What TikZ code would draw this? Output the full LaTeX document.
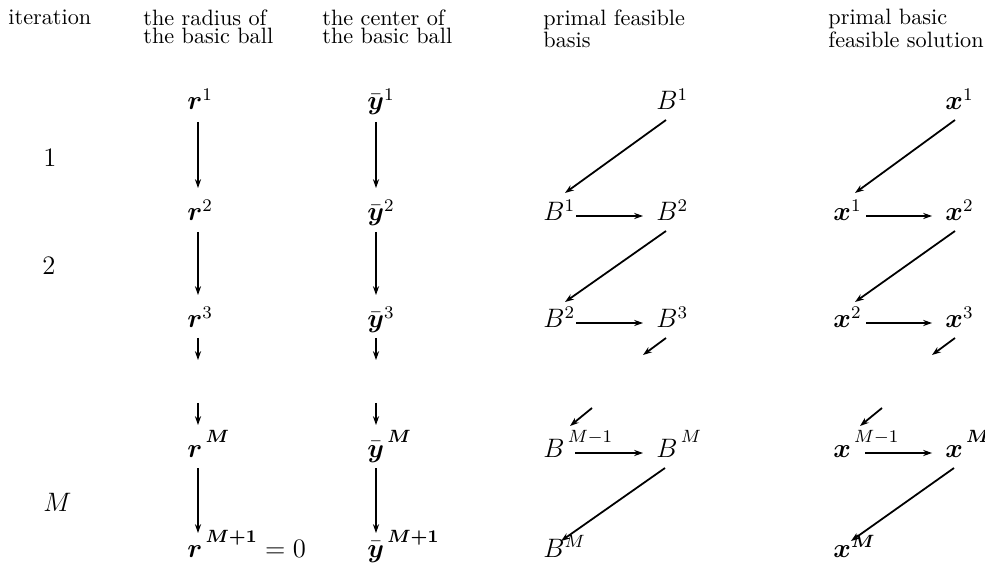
\documentclass[tikz,border=0pt]{standalone}
\usepackage{amsmath, amssymb}
\usepackage{tikz}
\usetikzlibrary{calc, arrows.meta}
\newcommand{\raisedsup}[1]{\,\raisebox{2.2pt}{$\scriptstyle #1$}}

\begin{document}
\begin{tikzpicture}[x=0.45pt, y=-0.45pt, >={Stealth[length=4pt, width=2.8pt]},
        every node/.style={inner sep=0pt, anchor=base west},
        head/.style={align=left, anchor=north west, font=\fontsize{10}{8.2}\selectfont},
        entry/.style={font=\large},
        vline/.style={->, line width=0.5pt},
        dline/.style={->, line width=0.8pt}]
                \useasboundingbox (0,0) rectangle (985,574);
                % headings
                \node[head] (hIt) at (8,9) {iteration};
                \node[head] (hRad) at (143,9) {the radius of\\the basic ball};
                \node[head] (hCen) at (322,9) {the center of\\the basic ball};
                \node[head] (hBas) at (543,9) {primal feasible\\basis};
                \node[head] (hSol) at (828,9) {primal basic\\feasible solution};
                % iterations
                \node[entry] (it1) at (43,167) {1};
                \node[entry] (it2) at (42,275) {2};
                \node[entry] (itM) at (43,511) {$M$};
                % radius
                \node[entry] (r1) at (187,110) {$\boldsymbol{r}^1$};
                \node[entry] (r2) at (187,221) {$\boldsymbol{r}^2$};
                \node[entry] (r3) at (187,328) {$\boldsymbol{r}^3$};
                \node[entry] (rM) at (187,457) {$\boldsymbol{r}^{\raisedsup{\boldsymbol{M}}}$};
                \node[entry] (rN) at (187,557) {$\boldsymbol{r}^{\raisedsup{\boldsymbol{M+1}}}=0$};
                \draw[vline] ($(r1.base west)+(11,12)$) -- ($(r2.base west)+(11,-33)$);
                \draw[vline] ($(r2.base west)+(11,11)$) -- ($(r3.base west)+(11,-33)$);
                \coordinate (r3e) at ($(r3.base west)+(11,32)$);
                \draw[vline] ($(r3.base west)+(11,10)$) -- (r3e);
                \coordinate (rMs) at ($(rM.base west)+(11,-54)$);
                \draw[vline] (rMs) -- ($(rM.base west)+(11,-32)$);
                \draw[vline] ($(rM.base west)+(11,11)$) -- ($(rN.base west)+(11,-24)$);
                % center
                \node[entry] (y1) at (367,110) {$\bar{\boldsymbol{y}}^1$};
                \node[entry] (y2) at (367,221) {$\bar{\boldsymbol{y}}^2$};
                \node[entry] (y3) at (367,328) {$\bar{\boldsymbol{y}}^3$};
                \node[entry] (yM) at (367,457) {$\bar{\boldsymbol{y}}^{\raisedsup{\boldsymbol{M}}}$};
                \node[entry] (yN) at (367,557) {$\bar{\boldsymbol{y}}^{\raisedsup{\boldsymbol{M+1}}}$};
                \draw[vline] ($(y1.base west)+(9,12)$) -- ($(y2.base west)+(9,-33)$);
                \draw[vline] ($(y2.base west)+(9,11)$) -- ($(y3.base west)+(9,-33)$);
                \coordinate (y3e) at ($(y3.base west)+(9,32)$);
                \draw[vline] ($(y3.base west)+(9,10)$) -- (y3e);
                \coordinate (yMs) at ($(yM.base west)+(9,-54)$);
                \draw[vline] (yMs) -- ($(yM.base west)+(9,-32)$);
                \draw[vline] ($(yM.base west)+(9,11)$) -- ($(yN.base west)+(9,-24)$);
                % basis
                \node[entry] (Btop) at (656,110) {$B^1$};
                \node[entry] (Ba2) at (543,221) {$B^1$};
                \node[entry] (Bb2) at (656,221) {$B^2$};
                \node[entry] (Ba3) at (543,328) {$B^2$};
                \node[entry] (Bb3) at (656,328) {$B^3$};
                \node[entry] (BaM) at (543,457) {$B^{\raisedsup{M-1}}$};
                \node[entry] (BbM) at (656,457) {$B^{\raisedsup{M}}$};
                \node[entry] (BaN) at (543,557) {$B^M$};
                \draw[dline] ($(Btop.base west)+(10,10)$) -- ($(Ba2.base west)+(22,-28)$);
                \draw[vline] ($(Ba2.base west)+(33,-5)$) -- ($(Bb2.base west)+(-13,-5)$);
                \draw[dline] ($(Bb2.base west)+(10,10)$) -- ($(Ba3.base west)+(22,-26)$);
                \draw[vline] ($(Ba3.base west)+(33,-5)$) -- ($(Bb3.base west)+(-13,-5)$);
                \coordinate (Bb3e) at ($(Bb3.base west)+(-13,27)$);
                \draw[dline] ($(Bb3.base west)+(10,10)$) -- (Bb3e);
                \coordinate (BaMs) at ($(BaM.base west)+(49,-49)$);
                \draw[dline] (BaMs) -- ($(BaM.base west)+(27,-31)$);
                \draw[vline] ($(BaM.base west)+(32,-4)$) -- ($(BbM.base west)+(-13,-4)$);
                \draw[dline] ($(BbM.base west)+(9,11)$) -- ($(BaN.base west)+(18,-16)$);
                % solution
                \node[entry] (Xtop) at (945,110) {$\boldsymbol{x}^1$};
                \node[entry] (Xa2) at (833,221) {$\boldsymbol{x}^1$};
                \node[entry] (Xb2) at (945,221) {$\boldsymbol{x}^2$};
                \node[entry] (Xa3) at (833,328) {$\boldsymbol{x}^2$};
                \node[entry] (Xb3) at (945,328) {$\boldsymbol{x}^3$};
                \node[entry] (XaM) at (833,457) {$\boldsymbol{x}^{\raisedsup{M-1}}$};
                \node[entry] (XbM) at (945,457) {$\boldsymbol{x}^{\raisedsup{\boldsymbol{M}}}$};
                \node[entry] (XaN) at (833,557) {$\boldsymbol{x}^{\boldsymbol{M}}$};
                \draw[dline] ($(Xtop.base west)+(10,10)$) -- ($(Xa2.base west)+(22,-28)$);
                \draw[vline] ($(Xa2.base west)+(33,-5)$) -- ($(Xb2.base west)+(-13,-5)$);
                \draw[dline] ($(Xb2.base west)+(10,10)$) -- ($(Xa3.base west)+(22,-26)$);
                \draw[vline] ($(Xa3.base west)+(33,-5)$) -- ($(Xb3.base west)+(-13,-5)$);
                \coordinate (Xb3e) at ($(Xb3.base west)+(-13,27)$);
                \draw[dline] ($(Xb3.base west)+(10,10)$) -- (Xb3e);
                \coordinate (XaMs) at ($(XaM.base west)+(49,-49)$);
                \draw[dline] (XaMs) -- ($(XaM.base west)+(27,-31)$);
                \draw[vline] ($(XaM.base west)+(32,-4)$) -- ($(XbM.base west)+(-13,-4)$);
                \draw[dline] ($(XbM.base west)+(9,11)$) -- ($(XaN.base west)+(18,-16)$);
            \end{tikzpicture}
\end{document}
